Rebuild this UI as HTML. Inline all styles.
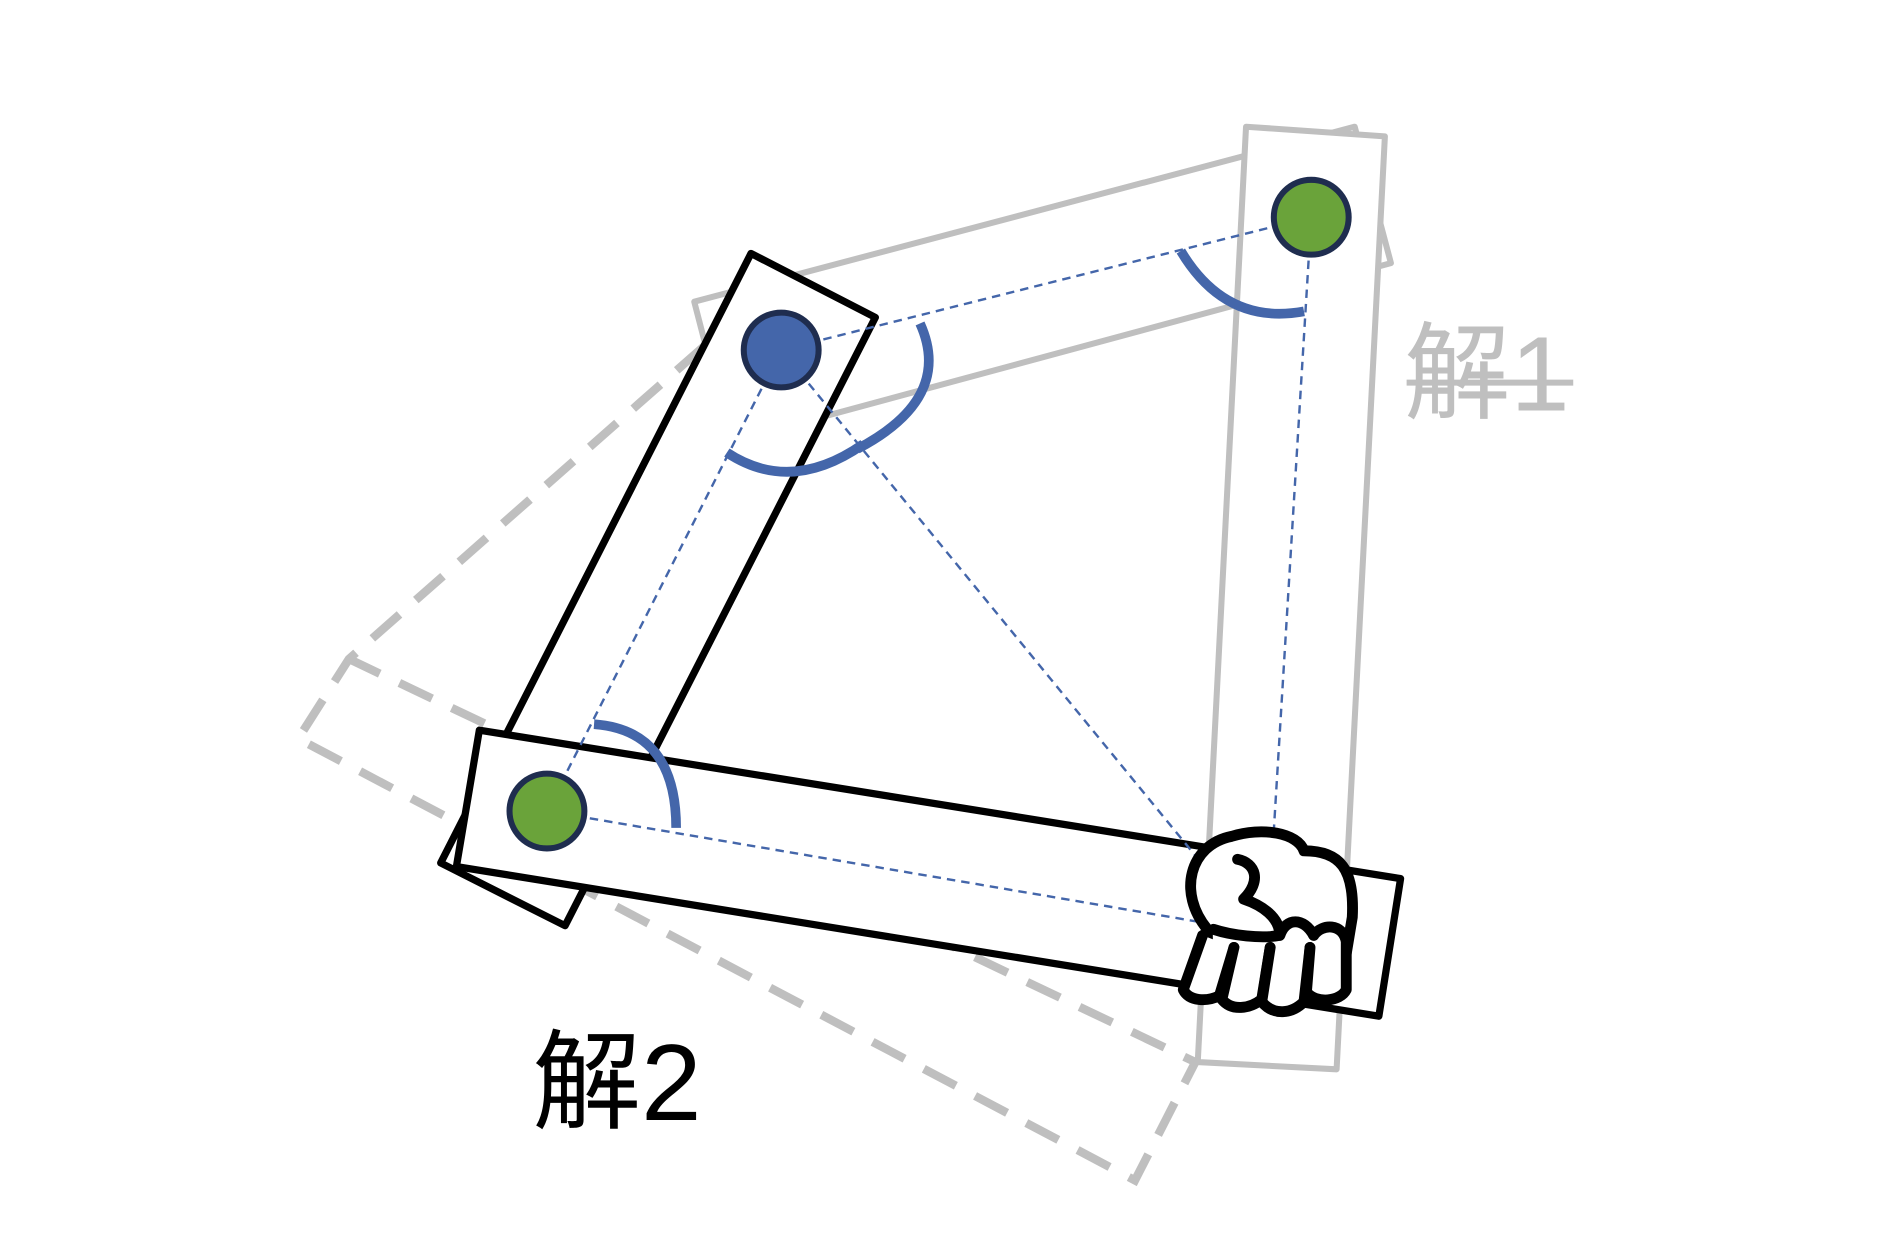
<!DOCTYPE html>
<html><head><meta charset="utf-8"><style>
html,body{margin:0;padding:0;background:#fff;}
svg{display:block;}
</style></head><body>
<svg width="1892" height="1260" viewBox="0 0 1567 1044" preserveAspectRatio="none" xmlns="http://www.w3.org/2000/svg">
<rect width="1567" height="1044" fill="#fff"/>
<g fill="none" stroke="#bfbfbf" stroke-width="7" stroke-dasharray="30,18">
<polyline points="583,287 289,546 247,612 940,978 990,880 289,546"/>
</g>
<g fill="#fff" stroke="#bfbfbf" stroke-width="5" stroke-linejoin="round">
<polygon points="575,250 1122,105 1152,218 605,366"/>
<polygon points="1032,105 1147,113 1107,886 992,880"/>
</g>
<g fill="#fff" stroke="#000" stroke-width="6" stroke-linejoin="round">
<polygon points="622,210 725,263 468,767 365,715"/>
<polygon points="397,605 1160,728 1142,842 378,718"/>
</g>
<g stroke="#4466aa" stroke-width="2" stroke-dasharray="7,5" fill="none">
<line x1="647" y1="290" x2="1086" y2="180"/>
<line x1="1086" y1="180" x2="1050" y2="770"/>
<line x1="647" y1="290" x2="1040" y2="770"/>
<line x1="647" y1="290" x2="453" y2="672"/>
<line x1="453" y1="672" x2="1000" y2="765"/>
</g>
<g stroke="#4466aa" stroke-width="8" fill="none">
<path d="M602,375 Q655,410 715,368"/>
<path d="M762,268 Q790,330 710,372"/>
<path d="M978,208 Q1015,270 1080,258"/>
<path d="M492,600 Q560,605 560,686"/>
</g>
<g stroke="#1f2d4f" stroke-width="5">
<circle cx="647" cy="290" r="31" fill="#4466aa"/>
<circle cx="1086" cy="180" r="31" fill="#6aa33a"/>
<circle cx="453" cy="672" r="31" fill="#6aa33a"/>
</g>
<g stroke="#000" stroke-width="9" fill="#fff" stroke-linejoin="round" stroke-linecap="round">
<path d="M1000,770 C975,740 985,700 1020,693 C1045,685 1075,690 1080,705 C1110,705 1122,720 1120,760 L1115,790 L1000,790 Z"/>
<path d="M996,775 L980,820 C985,830 1000,830 1010,825 L1022,785"/>
<path d="M1022,785 L1012,828 C1020,838 1035,836 1045,828 L1052,785"/>
<path d="M1052,785 L1045,830 C1055,842 1070,840 1080,830 L1085,785"/>
<path d="M1085,785 L1082,822 C1090,832 1110,830 1115,820 L1115,780 C1112,765 1095,765 1088,775"/>
<path d="M1025,712 C1040,715 1045,730 1030,745 C1045,750 1060,760 1060,775 C1045,778 1020,775 1005,770" fill="none"/>
<path d="M1060,775 C1065,760 1080,760 1088,775" fill="none"/>
</g>
<text x="1163" y="340" font-family="'Liberation Sans','Noto Sans CJK SC',sans-serif" font-size="88" fill="#bfbfbf">解1</text>
<line x1="1165" y1="317" x2="1303" y2="317" stroke="#bfbfbf" stroke-width="5"/>
<text x="441" y="928" font-family="'Liberation Sans','Noto Sans CJK SC',sans-serif" font-size="90" fill="#000">解2</text>
</svg>
</body></html>
